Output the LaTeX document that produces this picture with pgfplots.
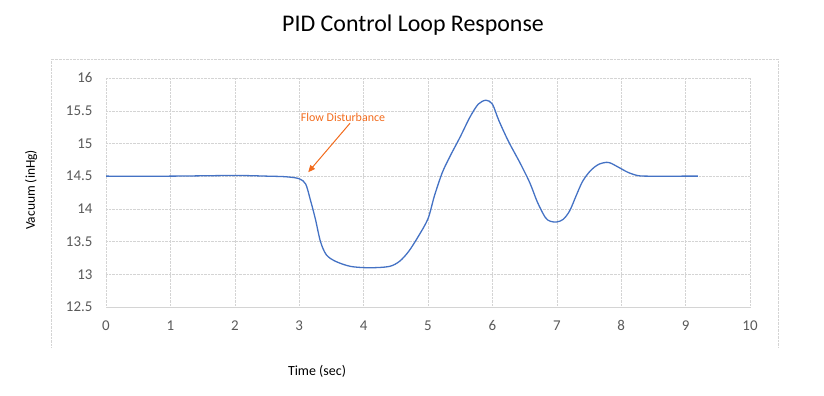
\documentclass[border=0pt]{standalone}
\usepackage{pgfplots}
\pgfplotsset{compat=1.18}
\usepackage{fontspec}
\setmainfont{Carlito}
\usetikzlibrary{arrows.meta}
\definecolor{tick}{HTML}{595959}
\definecolor{gridc}{HTML}{D4D4D4}
\definecolor{line}{HTML}{4472C4}
\definecolor{ann}{HTML}{F26B1D}
\begin{document}
\begin{tikzpicture}[x=1bp,y=1bp]
\useasboundingbox (0,0) rectangle (824,395);
\draw[gridc, densely dotted] (51,48) -- (51,336) -- (778,336) -- (778,47);
\begin{axis}[
  at={(106bp,88bp)}, anchor=south west,
  scale only axis, width=644bp, height=229bp,
  xmin=0, xmax=10, ymin=12.5, ymax=16,
  xtick={0,1,...,10},
  ytick={12.5,13,...,16},
  yticklabel style={/pgf/number format/fixed,/pgf/number format/precision=1},
  /pgf/number format/assume math mode=true,
  tick label style={font=\fontsize{15}{17}\selectfont, text=tick},
  xticklabel style={yshift=-10bp},
  yticklabel style={xshift=-10bp},
  major tick length=0pt,
  grid=major,
  major grid style={gridc, densely dotted},
  axis line style={draw=none},
  axis x line*=bottom,
  axis y line*=left,
  clip=false,
]
\draw[gridc, line width=1pt] (axis cs:0,12.5) -- (axis cs:10,12.5);
\addplot[line, line width=1.3pt, smooth, tension=0.5] coordinates {
(0,14.5) (1,14.5) (2,14.51) (2.5,14.5) (2.8,14.49) (3.0,14.46) (3.1,14.38) (3.17,14.15) (3.25,13.85) (3.33,13.5) (3.42,13.3) (3.56,13.2) (3.8,13.12) (4.1,13.1) (4.4,13.12) (4.56,13.2) (4.7,13.35) (4.85,13.58) (5.0,13.85) (5.1,14.2) (5.22,14.55) (5.34,14.8) (5.5,15.1) (5.65,15.4) (5.78,15.6) (5.9,15.66) (6.0,15.6) (6.1,15.35) (6.25,15.03) (6.43,14.7) (6.58,14.4) (6.7,14.1) (6.82,13.87) (6.9,13.81) (7.0,13.8) (7.1,13.84) (7.2,13.97) (7.3,14.2) (7.4,14.42) (7.52,14.58) (7.65,14.68) (7.8,14.71) (7.95,14.64) (8.1,14.56) (8.25,14.51) (8.4,14.5) (9.0,14.5) (9.19,14.5)
};
\draw[ann, -{Triangle[length=7bp,width=6bp]}, line width=1pt] (axis cs:3.79,15.31) -- (axis cs:3.14,14.56);
\node[text=ann, font=\fontsize{12}{14}\selectfont] at (axis cs:3.68,15.40) {Flow Disturbance};
\end{axis}
\node[font=\fontsize{24}{28}\selectfont] at (413,370) {PID Control Loop Response};
\node[font=\fontsize{14}{16}\selectfont] at (317,24) {Time (sec)};
\node[font=\fontsize{13.5}{15}\selectfont, rotate=90] at (31,205) {Vacuum (inHg)};
\end{tikzpicture}
\end{document}
